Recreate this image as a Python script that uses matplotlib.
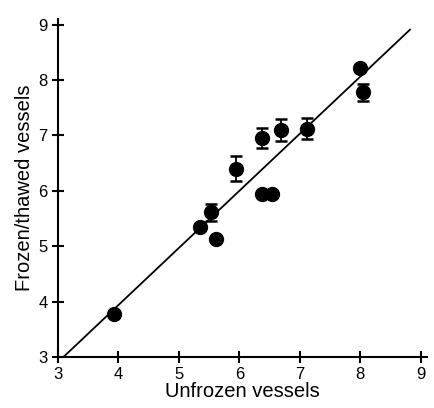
import matplotlib.pyplot as plt

plt.rcParams['font.family'] = ['Liberation Sans', 'DejaVu Sans']

# values
unfrozen = [3.92, 5.35, 5.53, 5.61, 5.94, 6.38, 6.54, 6.38, 6.69, 7.12, 7.99, 8.05]
thawed = [3.78, 5.34, 5.61, 5.13, 6.40, 5.95, 5.95, 6.96, 7.10, 7.12, 8.21, 7.78]
err = [0, 0, 0.15, 0, 0.23, 0, 0, 0.18, 0.20, 0.19, 0, 0.15]

fit_x = [3.09, 8.82]
fit_y = [3.0, 8.91]

ticks = [3, 4, 5, 6, 7, 8, 9]

fig = plt.figure(figsize=(4.34, 4.08), dpi=100)
ax = fig.add_axes([0.1336, 0.125, 0.850, 0.828])

ax.plot(fit_x, fit_y, color='black', lw=1.3)
ax.errorbar(unfrozen, thawed, yerr=err, fmt='o', color='black', ms=10,
            capsize=4.3, capthick=1.8, elinewidth=1.3)

ax.set_xlim(3, 9.1)
ax.set_ylim(3, 9.1)
ax.set_xticks(ticks)
ax.set_yticks(ticks)
for s in ['top', 'right']:
    ax.spines[s].set_visible(False)
for s in ['left', 'bottom']:
    ax.spines[s].set_linewidth(1.5)
ax.tick_params(direction='inout', length=9, width=1.5, labelsize=12, pad=3)

ax.set_xlabel('Unfrozen vessels', fontsize=14.5, labelpad=0)
ax.set_ylabel('Frozen/thawed vessels', fontsize=14.5, labelpad=3)

fig.savefig('out.png', dpi=100)
